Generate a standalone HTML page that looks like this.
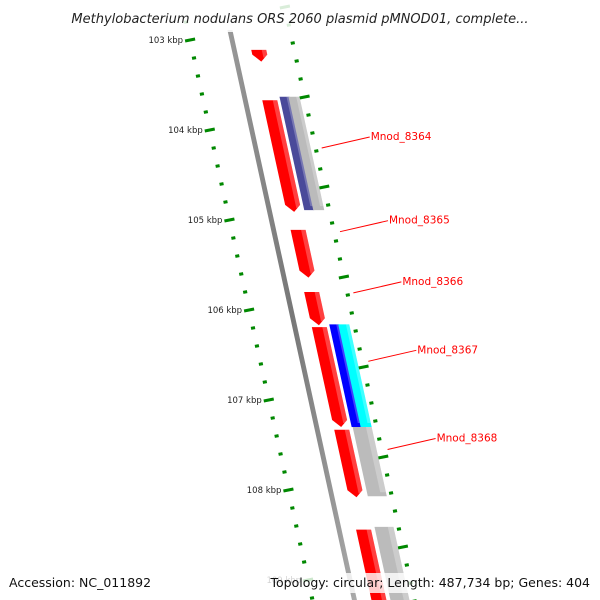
<!DOCTYPE html>
<html><head><meta charset="utf-8"><style>
html,body{margin:0;background:#fff;overflow:hidden;width:600px;height:600px}
svg{display:block;font-family:"DejaVu Sans","Liberation Sans",sans-serif}
</style></head><body>
<svg id="c" width="600" height="600" viewBox="0 0 600 600">
<defs>
<linearGradient id="bb" x1="0" x2="1"><stop offset="0" stop-color="#999"/><stop offset="0.5" stop-color="#777"/><stop offset="1" stop-color="#aaa"/></linearGradient>
</defs>
<g id="ticks"></g>
<g id="backbone"></g>
<g id="feats"></g>
<g id="labels"></g>
<rect x="0" y="0" width="600" height="32" fill="rgba(255,255,255,0.85)"/>
<text x="300" y="23" text-anchor="middle" font-size="13" font-style="italic" fill="#222">Methylobacterium nodulans ORS 2060 plasmid pMNOD01, complete...</text>
<rect x="0" y="573" width="600" height="20" fill="rgba(255,255,255,0.8)"/>
<text x="9" y="587" font-size="12.5" fill="#111">Accession: NC_011892</text>
<text x="590" y="587" text-anchor="end" font-size="12.5" fill="#111">Topology: circular; Length: 487,734 bp; Genes: 404</text>
</svg>
<script>
const majorKbp=[103,104,105,106,107,108,109];
const majorLabels=["103 kbp","104 kbp","105 kbp","106 kbp","107 kbp","108 kbp","109 kbp"];
const geneStart=[103.11,103.67,103.63,103.63,105.11,105.80,106.19,106.16,106.16,107.33,107.30,108.44,108.41];
const geneEnd=[103.24,104.91,104.89,104.89,105.64,106.17,107.30,107.30,107.30,108.08,108.07,109.30,109.30];
const geneTrack=[0,0,1,2,0,0,0,1,2,0,3,0,3];
const geneColor=["#f00","#f00","#4a4a9a","#bbb","#f00","#f00","#f00","#00f","#0ff","#f00","#bbb","#f00","#bbb"];
const geneArrow=[1,1,0,0,1,1,1,0,0,1,0,1,0];
const labelNames=["Mnod_8364","Mnod_8365","Mnod_8366","Mnod_8367","Mnod_8368"];
const labelKbp=[104.2,105.13,105.81,106.57,107.55];

const NS="http://www.w3.org/2000/svg";
const yOf=k=>40+(k-103)*90;
const bx=y=>231+0.2185*(y-35);
const trackOff=[[17,32],[35,45],[44,55],[36,55]];
function el(t,a,p){const e=document.createElementNS(NS,t);for(const k in a)e.setAttribute(k,a[k]);p.appendChild(e);return e;}
const T=document.getElementById('ticks');
for(let i=0;i<=36;i++){
  const k=102.8+i*0.2;const major=Math.abs(k-Math.round(k))<0.01;
  const y=yOf(k);const x=bx(y)-42;
  const d=el('line',{x1:x-(major?5:2),y1:y+(major?1:0.4),x2:x+(major?5:2),y2:y-(major?1:0.4),stroke:'#080','stroke-width':3},T);
  
  const y2=yOf(k)-33;const x2=bx(y2)+60;
  const d2=el('line',{x1:x2-(major?5:2),y1:y2+(major?1:0.4),x2:x2+(major?5:2),y2:y2-(major?1:0.4),stroke:'#080','stroke-width':3},T);
  
}
majorKbp.forEach((k,i)=>{
  const y=yOf(k);const x=bx(y)-49;
  const t=el('text',{x:x,y:y+3,'text-anchor':'end','font-size':8.5,fill:'#222'},T);t.textContent=majorLabels[i];
  
});
const B=document.getElementById('backbone');
const bl=el('polygon',{points:`${bx(30)-2.5},30 ${bx(30)+2.5},30 ${bx(600)+2.5},600 ${bx(600)-2.5},600`,fill:'url(#bb)'},B);

const F=document.getElementById('feats');
geneStart.forEach((s,i)=>{
  const y1=yOf(s),y2=yOf(geneEnd[i]);const [a,b]=trackOff[geneTrack[i]];
  const p=[[bx(y1)+a,y1],[bx(y1)+b,y1]];
  if(geneArrow[i]){const t=7;p.push([bx(y2-t)+b,y2-t],[bx(y2)+(a+b)/2,y2],[bx(y2-t)+a,y2-t]);}
  else p.push([bx(y2)+b,y2],[bx(y2)+a,y2]);
  const g=el('polygon',{points:p.map(q=>q.join(',')).join(' '),fill:geneColor[i]},F);
  
  const w=(b-a)*0.3;
  const h=el('polygon',{points:`${bx(y1)+b-w},${y1} ${bx(y1)+b},${y1} ${bx(y2-4)+b},${y2-4} ${bx(y2-4)+b-w},${y2-4}`,fill:'rgba(255,255,255,0.25)'},F);
  
});
const L=document.getElementById('labels');
labelNames.forEach((n,i)=>{
  const y=yOf(labelKbp[i]);const x=bx(y)+66;
  const ln=el('line',{x1:x,y1:y,x2:x+48,y2:y-11,stroke:'#f00','stroke-width':1},L);
  
  const t=el('text',{x:x+49,y:y-8,'font-size':10.5,fill:'#f00'},L);t.textContent=n;
  
});
</script>
</body></html>
